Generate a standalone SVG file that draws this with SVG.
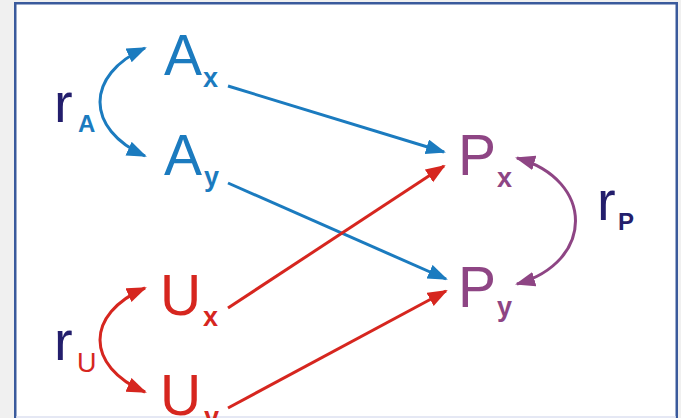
<svg xmlns="http://www.w3.org/2000/svg" width="681" height="418" viewBox="0 0 681 418">
<style>
.t{font-family:"Liberation Sans",Arial,sans-serif}
.big{font-size:57px}
.sub{font-size:27px;font-weight:bold}
.blue{fill:#1b7bbf}
.red{fill:#d6261f}
.purple{fill:#8e4584}
.navy{fill:#231e6c}
.ln{fill:none;stroke-width:3}
</style>
<defs>
<marker id="hb" markerUnits="userSpaceOnUse" markerWidth="22" markerHeight="16" refX="18" refY="7.5" orient="auto-start-reverse"><path d="M0,0 L20,7.5 L0,15 z" fill="#1b7bbf"/></marker>
<marker id="hr" markerUnits="userSpaceOnUse" markerWidth="22" markerHeight="16" refX="18" refY="7.5" orient="auto-start-reverse"><path d="M0,0 L20,7.5 L0,15 z" fill="#d6261f"/></marker>
<marker id="hp" markerUnits="userSpaceOnUse" markerWidth="22" markerHeight="16" refX="18" refY="7.5" orient="auto-start-reverse"><path d="M0,0 L20,7.5 L0,15 z" fill="#8e4584"/></marker>
</defs>
<rect x="0" y="0" width="681" height="418" fill="#f0f0f0"/>
<rect x="15.25" y="3.25" width="661.5" height="430" fill="#ffffff" stroke="#3a5a9c" stroke-width="2.5"/>
<line x1="16" y1="417" x2="676" y2="417" stroke="#dde0f0" stroke-width="1.5"/>
<g id="connectors">
<path class="ln" stroke="#1b7bbf" d="M228,86 L444,152" marker-end="url(#hb)"/>
<path class="ln" stroke="#1b7bbf" d="M228,183 L446,279" marker-end="url(#hb)"/>
<path class="ln" stroke="#d6261f" d="M228,308 L444,166" marker-end="url(#hr)"/>
<path class="ln" stroke="#d6261f" d="M228,408 L446,291" marker-end="url(#hr)"/>
<path class="ln" stroke="#1b7bbf" d="M145,48 C85,75 85,129 145,156" marker-start="url(#hb)" marker-end="url(#hb)"/>
<path class="ln" stroke="#d6261f" d="M145,288 C85,314 85,366 145,392" marker-start="url(#hr)" marker-end="url(#hr)"/>
<path class="ln" stroke="#8e4584" d="M517,158 C595,180 595,262 517,284" marker-start="url(#hp)" marker-end="url(#hp)"/>
</g>
<g id="Ax"><text class="t big blue" x="164" y="75">A</text><text class="t sub blue" x="203" y="87">x</text></g>
<g id="Ay"><text class="t big blue" x="164" y="175">A</text><text class="t sub blue" x="204" y="186">y</text></g>
<g id="Ux"><text class="t big red" x="160" y="315">U</text><text class="t sub red" x="203" y="326">x</text></g>
<g id="Uy"><text class="t big red" x="160" y="415">U</text><text class="t sub red" x="204" y="426">y</text></g>
<g id="Px"><text class="t big purple" x="458" y="175">P</text><text class="t sub purple" x="497" y="187">x</text></g>
<g id="Py"><text class="t big purple" x="458" y="307">P</text><text class="t sub purple" x="497" y="316">y</text></g>
<g id="rA"><text class="t navy" style="font-size:56px" x="54" y="122">r</text><text class="t blue" style="font-size:24px;font-weight:bold" x="78" y="132">A</text></g>
<g id="rU"><text class="t navy" style="font-size:56px" x="54" y="360">r</text><text class="t red" style="font-size:27px" x="77" y="372">U</text></g>
<g id="rP"><text class="t navy" style="font-size:56px" x="597" y="220">r</text><text class="t navy" style="font-size:24px;font-weight:bold" x="618" y="230">P</text></g>
</svg>
